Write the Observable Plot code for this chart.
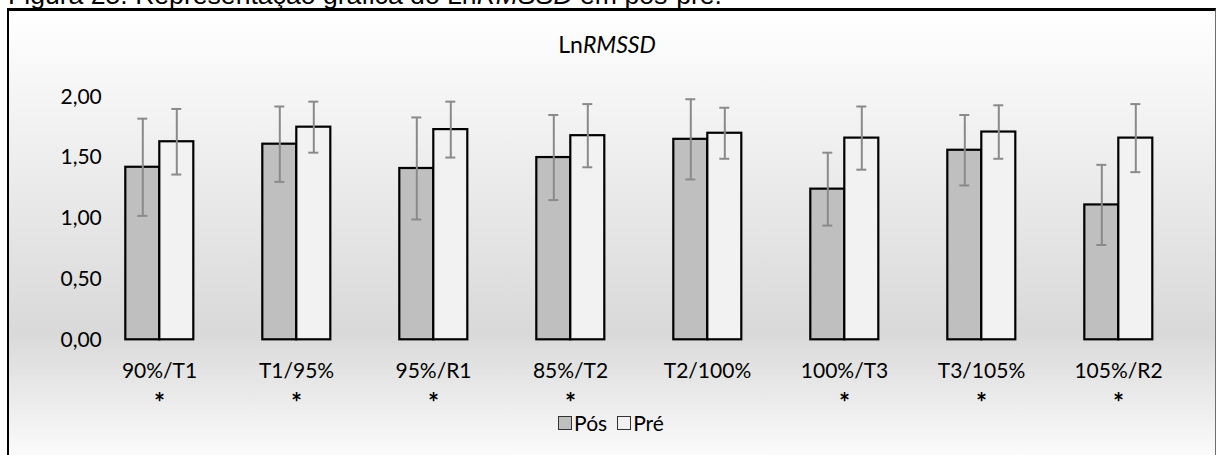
<!DOCTYPE html>
<html>
<head>
<meta charset="utf-8">
<script src="https://cdn.jsdelivr.net/npm/d3@7"></script>
<script src="https://cdn.jsdelivr.net/npm/@observablehq/plot@0.6"></script>
<style>
  html, body { margin: 0; padding: 0; background: #fff; width: 1217px; height: 455px; overflow: hidden; position: relative; }
  #caption { position: absolute; left: 8px; top: -18.5px; font: 26.6px/26.6px "Liberation Sans", Arial, sans-serif; white-space: nowrap; color: #000; }
  #frame { position: absolute; left: 7px; top: 8px; width: 1206px; height: 460px;
           border-left: 2px solid #000; border-top: 3px solid #000; border-right: 1px solid #6e6e6e;
           background: linear-gradient(to bottom, #ffffff 0%, #d9d9d9 70%, #ffffff 100%); }
  #title { position: absolute; left: 0; top: 31px; width: 1214px; text-align: center; font: 23px/26px Lato, sans-serif; color: #000; }
  #chart { position: absolute; left: 0; top: 70px; }
  #legend { position: absolute; left: 0; top: 410px; width: 1222px; display: flex; justify-content: center; align-items: center;
            font: 21px/26px Lato, sans-serif; color: #000; }
  #legend .item { display: flex; align-items: center; margin: 0 5px; }
  #legend .sw { width: 12px; height: 12px; border: 1.5px solid #333; margin-right: 2px; }
</style>
</head>
<body>
<div id="caption">Figura 25. Representação gráfica do Ln<i>RMSSD</i> em pós-pré.</div>
<div id="frame"></div>
<div id="title">Ln<i>RMSSD</i></div>
<div id="chart"></div>
<div id="legend"></div>
<script>
// Exercise-stage comparisons (pós vs pré), LnRMSSD mean ± SD
const categories = ["90%/T1", "T1/95%", "95%/R1", "85%/T2", "T2/100%", "100%/T3", "T3/105%", "105%/R2"];
const series = ["Pós", "Pré"];
const seriesColors = ["#bfbfbf", "#f2f2f2"];
const posMean = [1.42, 1.61, 1.41, 1.50, 1.65, 1.24, 1.56, 1.11];
const posSD   = [0.40, 0.31, 0.42, 0.35, 0.33, 0.30, 0.29, 0.33];
const preMean = [1.63, 1.75, 1.73, 1.68, 1.70, 1.66, 1.71, 1.66];
const preSD   = [0.27, 0.21, 0.23, 0.26, 0.21, 0.26, 0.22, 0.28];
const significant = [true, true, true, true, false, true, true, true];
const yTicks = [0, 0.5, 1, 1.5, 2];

const rows = categories.flatMap((cat, i) => [
  {cat, serie: series[0], mean: posMean[i], sd: posSD[i]},
  {cat, serie: series[1], mean: preMean[i], sd: preSD[i]}
]);
const stars = categories.filter((c, i) => significant[i]);

const fmt = d => d3.format(".2f")(d).replace(".", ",");
const errColor = "#8a8a8a";

const chart = Plot.plot({
  width: 1217,
  height: 350,
  marginLeft: 89.7,
  marginRight: 29,
  marginTop: 26.3,
  marginBottom: 80.7,
  style: {background: "transparent", fontFamily: "Lato, sans-serif", fontSize: "21px", color: "#000", overflow: "visible"},
  fx: {domain: categories, paddingInner: 0.49, paddingOuter: 0.245, axis: "bottom", tickSize: 0, tickPadding: 23, label: null},
  x: {domain: series, padding: 0, axis: null},
  y: {domain: [0, 2], ticks: yTicks, tickFormat: fmt, tickSize: 0, tickPadding: 22.7, label: null},
  color: {domain: series, range: seriesColors},
  marks: [
    Plot.barY(rows, {fx: "cat", x: "serie", y: "mean", fill: "serie", stroke: "#000", strokeWidth: 2.2}),
    Plot.ruleX(rows, {fx: "cat", x: "serie", y1: d => d.mean - d.sd, y2: d => d.mean + d.sd, stroke: errColor, strokeWidth: 2}),
    Plot.tickY(rows, {fx: "cat", x: "serie", y: d => d.mean - d.sd, stroke: errColor, strokeWidth: 2, insetLeft: 12, insetRight: 12}),
    Plot.tickY(rows, {fx: "cat", x: "serie", y: d => d.mean + d.sd, stroke: errColor, strokeWidth: 2, insetLeft: 12, insetRight: 12}),
    // significance markers under the stage labels
    Plot.text(stars, {fx: d => d, text: () => "*", frameAnchor: "bottom", dy: 72, fontSize: 26, fontWeight: "bold", fill: "#000"})
  ]
});
document.getElementById("chart").appendChild(chart);

// legend swatches
const legend = document.getElementById("legend");
series.forEach((s, i) => {
  const item = document.createElement("div");
  item.className = "item";
  const sw = document.createElement("span");
  sw.className = "sw";
  sw.style.background = seriesColors[i];
  const label = document.createElement("span");
  label.textContent = s;
  item.append(sw, label);
  legend.appendChild(item);
});
</script>
</body>
</html>
